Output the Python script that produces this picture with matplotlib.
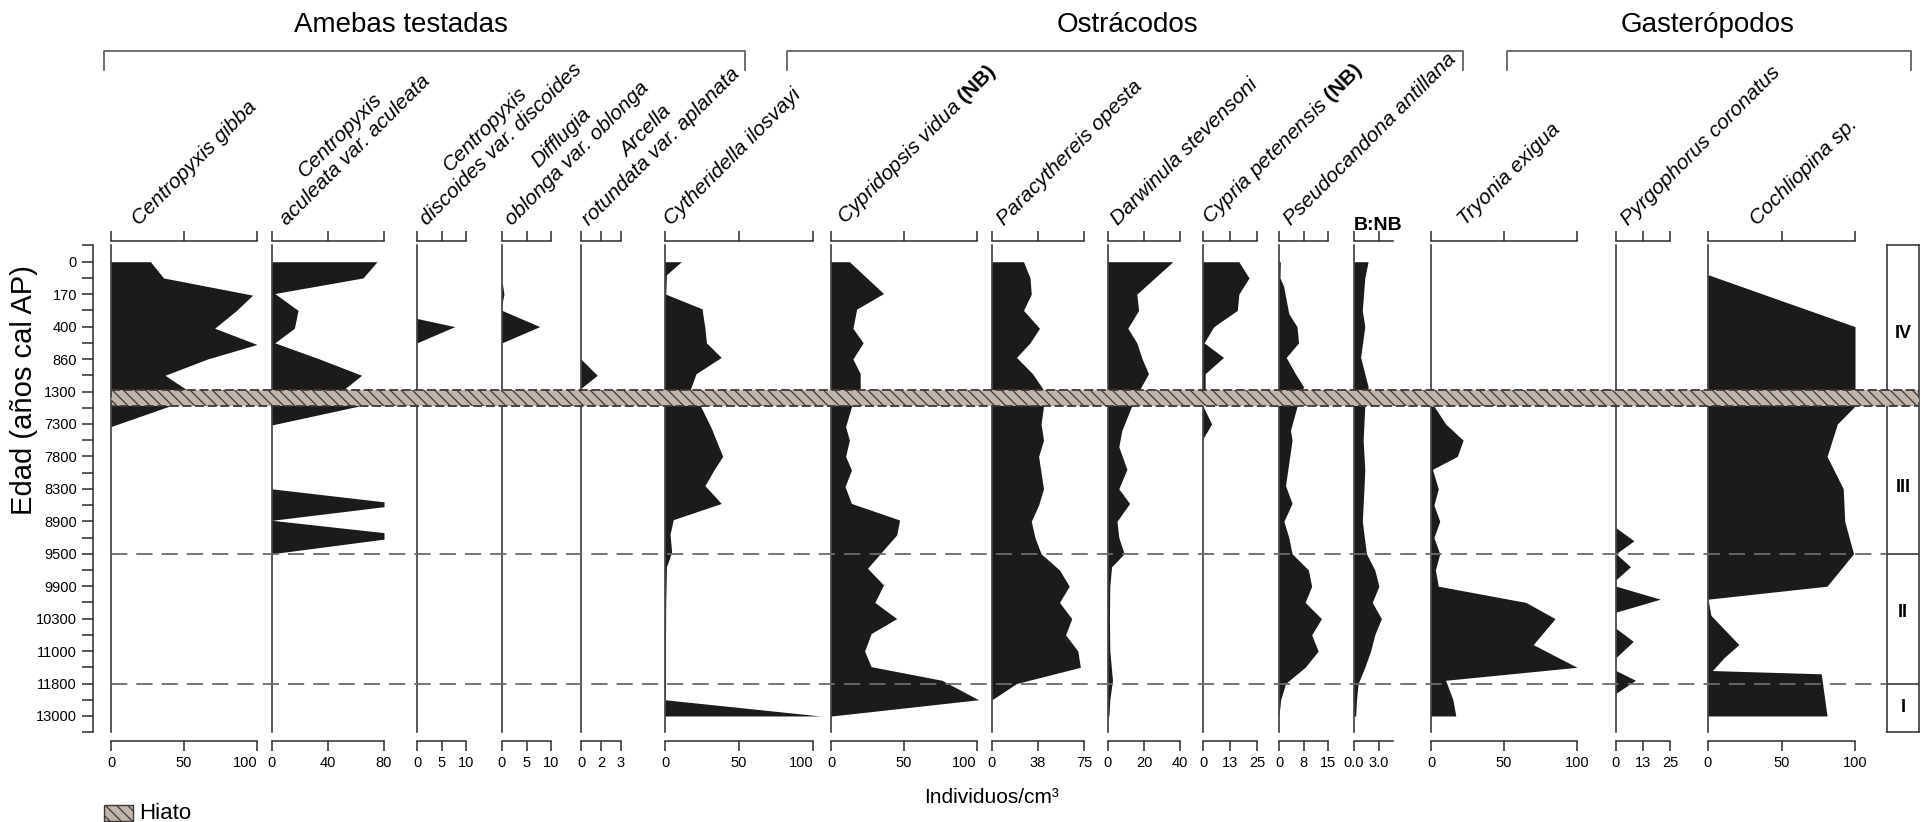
import numpy as np
import matplotlib
matplotlib.use('Agg')
import matplotlib.pyplot as plt
from matplotlib.patches import Rectangle
from matplotlib.lines import Line2D

plt.rcParams['font.family'] = ['Liberation Sans', 'DejaVu Sans']
plt.rcParams['mathtext.fontset'] = 'custom'
plt.rcParams['mathtext.it'] = 'Liberation Sans:italic'
plt.rcParams['mathtext.bf'] = 'Liberation Sans:bold'
plt.rcParams['mathtext.rm'] = 'Liberation Sans'
plt.rcParams['hatch.linewidth'] = 0.9

# ---- data: sample position along the core (0 = top label) and concentration ----
age_labels = ['0', '170', '400', '860', '1300', '7300', '7800', '8300', '8900',
              '9500', '9900', '10300', '11000', '11800', '13000']

gibba_d = [0, 0.5, 1.03, 1.5, 2.05, 2.55, 3.0, 3.5, 3.95, 4.45, 5.08]
gibba_v = [27, 36, 97, 86, 71, 100, 66, 37, 52, 40, 0]

aculeata_d = [0, 0.5, 0.98, 1.5, 2.05, 2.5, 3.0, 3.5, 3.95, 4.45, 5.03, 7.0, 7.4, 7.55, 7.97, 8.35, 8.55, 9.0]
aculeata_v = [75, 65, 2, 18.6, 16, 2, 34, 64, 51, 62, 0, 0, 80, 80, 0, 80, 80, 0]

discoides_d = [1.75, 2.0, 2.5]
discoides_v = [0, 7.7, 0]

difflugia_d = [0.6, 1.0, 1.3, 1.5, 2.0, 2.5]
difflugia_v = [0, 0.4, 0, 0, 7.7, 0]

arcella_d = [3.0, 3.5, 3.9]
arcella_v = [0, 1.3, 0]

cytheridella_d = [0, 0.4, 1.0, 1.45, 2.05, 2.5, 2.95, 3.45, 3.95, 4.45, 5.1, 6.0, 6.42, 6.9,
                  7.45, 7.95, 8.4, 8.95, 9.4, 10.5, 12.0, 13.45, 13.5, 14.0]
cytheridella_v = [11, 1, 0.5, 25, 27, 28, 38, 21, 17, 24, 31, 39, 33, 27,
                  38, 5.6, 3.4, 4.5, 1, 0.5, 0.3, 0.3, 0, 105]

cypridopsis_d = [0, 0.98, 1.46, 2.05, 2.5, 3.0, 3.45, 3.9, 4.47, 5.08, 5.5, 6.0, 6.42, 6.93,
                 7.45, 7.96, 8.42, 8.93, 9.45, 9.96, 10.5, 11.0, 11.46, 12.0, 12.48, 12.9, 13.5, 14.0]
cypridopsis_v = [12.6, 36, 17.6, 15, 22, 15, 20, 20, 14, 10, 12.6, 10, 14, 9.6,
                 14, 47, 45, 35, 25, 36, 30, 45, 27.5, 23, 27.5, 76, 101, 0.5]

paracythereis_d = [0, 0.5, 1.0, 1.5, 2.05, 2.5, 2.95, 3.45, 3.95, 4.45, 5.0, 5.5, 6.0, 6.5, 7.0,
                   7.5, 8.0, 8.5, 9.0, 9.5, 10.0, 10.5, 11.0, 11.5, 12.0, 12.5, 13.0, 13.5]
paracythereis_v = [25.7, 31, 32, 25.7, 38.7, 31, 20, 33, 42, 42, 40, 42, 38, 40, 42,
                   38, 32, 35, 40, 55, 63, 55, 65, 60, 70, 72, 20, 0]

darwinula_d = [0, 1.0, 1.5, 2.05, 2.5, 3.0, 3.45, 3.9, 4.47, 5.2, 5.7, 6.4, 7.0, 7.45, 8.0,
               8.5, 9.0, 9.4, 10.0, 11.0, 12.0, 12.9, 13.5, 14.0]
darwinula_v = [36, 16, 17, 11, 16, 19, 22.5, 18, 13, 7.7, 6, 10.5, 6, 12, 5,
               6, 9, 2, 1, 0.8, 1, 2.5, 1, 0.5]

cypria_d = [0, 0.5, 1.0, 1.5, 2.0, 2.5, 2.95, 3.45, 3.9, 4.45, 5.0, 5.45]
cypria_v = [16.6, 21.3, 16.6, 15.9, 5, 0.5, 9.5, 1, 1, 0, 4, 0]

pseudocandona_d = [0, 0.5, 0.75, 1.6, 2.0, 2.5, 2.95, 3.45, 3.85, 4.47, 5.2, 5.5, 6.2, 6.9, 7.45,
                   8.0, 8.5, 9.0, 9.5, 10.0, 10.5, 11.0, 11.5, 12.0, 12.5, 13.0, 13.5, 14.0]
pseudocandona_v = [0.4, 0.3, 1.4, 3, 5.5, 6, 2.2, 5, 7.5, 5.5, 3.5, 4, 3, 2, 4,
                   1.5, 3, 4, 9, 10, 8, 13, 10, 12, 8, 2, 0.5, 0]

bnb_d = [0, 0.5, 1.5, 2.0, 2.95, 3.85, 4.47, 5.5, 6.4, 7.0, 8.0, 9.0, 9.5, 10.0, 10.5,
         11.0, 11.5, 12.0, 12.5, 13.0, 13.5, 14.0]
bnb_v = [1.7, 1.3, 1.0, 1.3, 0.8, 1.7, 1.3, 1.1, 1.3, 1.2, 1.0, 1.5, 2.5, 3.0, 2.2,
         3.3, 2.5, 2.0, 1.3, 0.5, 0.3, 0.2]

tryonia_d = [4.45, 5.0, 5.5, 6.0, 6.4, 7.0, 7.5, 8.0, 8.5, 9.0, 9.5, 10.0, 10.5, 11.0,
             11.8, 12.5, 12.9, 13.5, 14.0]
tryonia_v = [2, 10, 22, 18, 1, 5, 2, 6, 2, 6, 3, 5, 65, 85,
             70, 100, 10, 15, 17]

pyrgophorus_d = [8.2, 8.6, 9.0, 9.4, 9.8, 10.0, 10.4, 10.8, 11.3, 11.7, 12.2, 12.6, 12.9, 13.3]
pyrgophorus_v = [0, 8.3, 0, 6.7, 0, 0, 20.5, 0, 0, 8, 0, 0, 9, 0]

cochliopina_d = [0.4, 2.0, 3.95, 4.45, 5.0, 6.0, 7.0, 8.0, 9.0, 10.0, 10.4, 10.9, 11.8, 12.2,
                 12.6, 12.7, 14.0]
cochliopina_v = [0, 100, 100, 100, 88, 81, 92, 93, 99, 81, 0, 2, 21, 11,
                 3, 77, 81]

taxa = ['Centropyxis gibba', 'Centropyxis\naculeata var. aculeata',
        'Centropyxis\ndiscoides var. discoides', 'Difflugia\noblonga var. oblonga',
        'Arcella\nrotundata var. aplanata', 'Cytheridella ilosvayi',
        r'$\mathit{Cypridopsis\ vidua}$ $\mathbf{(NB)}$', 'Paracythereis opesta',
        'Darwinula stevensoni', r'$\mathit{Cypria\ petenensis}$ $\mathbf{(NB)}$',
        'Pseudocandona antillana', 'B:NB', 'Tryonia exigua',
        'Pyrgophorus coronatus', 'Cochliopina sp.']
series = [(gibba_d, gibba_v), (aculeata_d, aculeata_v), (discoides_d, discoides_v),
          (difflugia_d, difflugia_v), (arcella_d, arcella_v), (cytheridella_d, cytheridella_v),
          (cypridopsis_d, cypridopsis_v), (paracythereis_d, paracythereis_v),
          (darwinula_d, darwinula_v), (cypria_d, cypria_v), (pseudocandona_d, pseudocandona_v),
          (bnb_d, bnb_v), (tryonia_d, tryonia_v), (pyrgophorus_d, pyrgophorus_v),
          (cochliopina_d, cochliopina_v)]
x_max = [100, 80, 10, 10, 3.2, 100, 100, 75, 40, 25, 15, 4.7, 100, 25, 100]
tick_vals = [[0, 50, 100], [0, 40, 80], [0, 5, 10], [0, 5, 10], [0, 1.6, 3.2], [0, 50, 100],
             [0, 50, 100], [0, 37.5, 75], [0, 20, 40], [0, 12.5, 25], [0, 7.5, 15], [0, 3],
             [0, 50, 100], [0, 12.5, 25], [0, 50, 100]]
tick_text = [['0', '50', '100'], ['0', '40', '80'], ['0', '5', '10'], ['0', '5', '10'],
             ['0', '2', '3'], ['0', '50', '100'], ['0', '50', '100'], ['0', '38', '75'],
             ['0', '20', '40'], ['0', '13', '25'], ['0', '8', '15'], ['0.0', '3.0'],
             ['0', '50', '100'], ['0', '13', '25'], ['0', '50', '100']]

groups = ['Amebas testadas', 'Ostrácodos', 'Gasterópodos']
zones = ['IV', 'III', 'II', 'I']
zone_mid = [2.2, 6.95, 10.8, 13.75]
zone_bounds = [9, 13]
hiatus = (3.95, 4.45)

# ---- layout (pixels) ----
W, H = 1925, 822
panel_x0 = [111, 272, 417, 502, 581, 665, 831, 992, 1108, 1203, 1279, 1354, 1431, 1616, 1708]
panel_x1 = [257, 384, 466, 551, 621, 813, 977, 1084, 1180, 1257, 1328, 1393, 1577, 1670, 1855]
label_dx = [31, 18, 13, 13, 11, 9, 18, 15, 13, 11, 15, 0, 37, 15, 52]
last_label_right = [True, False, False, False, False, True, True, False, False, False, False,
                    False, False, False, False]
group_span = [(104, 745), (787, 1463), (1507, 1911)]
group_title_x = [401, 1127, 1708]
Y_TOP, Y_BOT = 245.5, 732.2
INK = '#2b2b2b'
FILL = '#1c1b19'
HIATUS_FC = '#c0b5ab'
HIATUS_EC = '#3e3838'

fig = plt.figure(figsize=(W / 100, H / 100), dpi=100)


def add_ax(x0, x1):
    return fig.add_axes([x0 / W, 1 - Y_BOT / H, (x1 - x0) / W, (Y_BOT - Y_TOP) / H])


for i in range(len(taxa)):
    ax = add_ax(panel_x0[i], panel_x1[i])
    d, v = series[i]
    ax.fill_betweenx(d, 0, v, color=FILL, lw=0, clip_on=False)
    ax.set_xlim(0, x_max[i])
    ax.set_ylim(14.5, -0.5)
    ax.set_facecolor('none')
    ax.spines['right'].set_visible(False)
    ax.spines['top'].set_position(('outward', 3))
    ax.spines['bottom'].set_position(('outward', 6))
    for s in ['left', 'top', 'bottom']:
        ax.spines[s].set_color(INK)
        ax.spines[s].set_linewidth(1.1)
    ax.set_yticks([])
    ax.set_xticks(tick_vals[i])
    ax.tick_params(axis='x', top=True, bottom=True, labeltop=False, direction='out',
                   length=7, width=1.1, color=INK, pad=4)
    labels = ax.set_xticklabels(tick_text[i], fontsize=10.5)
    if last_label_right[i]:
        labels[-1].set_horizontalalignment('right')
    if taxa[i] == 'B:NB':
        fig.text(panel_x0[i] / W, 1 - 226 / H, taxa[i], fontsize=14, fontweight='bold',
                 ha='left', va='center')
    else:
        style = 'normal' if taxa[i].startswith('$') else 'italic'
        fig.text((panel_x0[i] + label_dx[i]) / W, 1 - 229 / H, taxa[i], fontsize=15,
                 fontstyle=style, rotation=45, rotation_mode='anchor', ha='left',
                 va='bottom', multialignment='center')

# y axis with age labels
ya = add_ax(93, 94)
ya.set_ylim(14.5, -0.5)
for s in ['right', 'top', 'bottom']:
    ya.spines[s].set_visible(False)
ya.spines['left'].set_color(INK)
ya.spines['left'].set_linewidth(1.1)
ya.set_xticks([])
ya.set_yticks(range(len(age_labels)))
ya.set_yticklabels(age_labels, fontsize=10.5)
ya.set_yticks(np.arange(-0.5, 15, 1), minor=True)
ya.tick_params(axis='y', which='both', length=8, width=1.1, color=INK)
fig.text(24 / W, 1 - 390 / H, 'Edad (años cal AP)', rotation=90, fontsize=21,
         ha='center', va='center')

# zone box
zb = add_ax(1887, 1919)
zb.set_ylim(14.5, -0.5)
zb.set_xlim(0, 1)
zb.set_xticks([])
zb.set_yticks([])
for s in zb.spines.values():
    s.set_color(INK)
    s.set_linewidth(1.1)
for b in zone_bounds:
    zb.axhline(b, color=INK, lw=1.1)
for z, m in zip(zones, zone_mid):
    zb.text(0.5, m, z, ha='center', va='center', fontsize=13, fontweight='bold')

# overlay: hiatus band and zone boundaries
ov = add_ax(111, 1919)
ov.set_ylim(14.5, -0.5)
ov.set_xlim(0, 1)
ov.axis('off')
ov.axhspan(hiatus[0], hiatus[1], facecolor=HIATUS_FC, edgecolor=HIATUS_EC,
           hatch='\\\\\\', lw=1.3, ls=(0, (5, 2)))
for b in zone_bounds:
    ov.axhline(b, xmin=0, xmax=(1887 - 111) / (1919 - 111), color='#6b6b6b', lw=1.3,
               ls=(0, (9, 5)))

# group brackets and titles
for g, (a, b), tx in zip(groups, group_span, group_title_x):
    fig.add_artist(Line2D([a / W, a / W, b / W, b / W],
                          [1 - 70 / H, 1 - 51 / H, 1 - 51 / H, 1 - 70 / H],
                          color='#555555', lw=1.2))
    fig.text(tx / W, 1 - 25 / H, g, ha='center', va='center', fontsize=20)

fig.text(991 / W, 1 - 797 / H, 'Individuos/cm³', ha='center', va='center', fontsize=15)

# legend for the hiatus
fig.add_artist(Rectangle((104 / W, 1 - 821 / H), 29 / W, 16 / H, transform=fig.transFigure,
                         facecolor=HIATUS_FC, edgecolor=HIATUS_EC, hatch='\\\\\\', lw=1))
fig.text(139 / W, 1 - 813 / H, 'Hiato', ha='left', va='center', fontsize=16)

fig.savefig('out.png', dpi=100)
